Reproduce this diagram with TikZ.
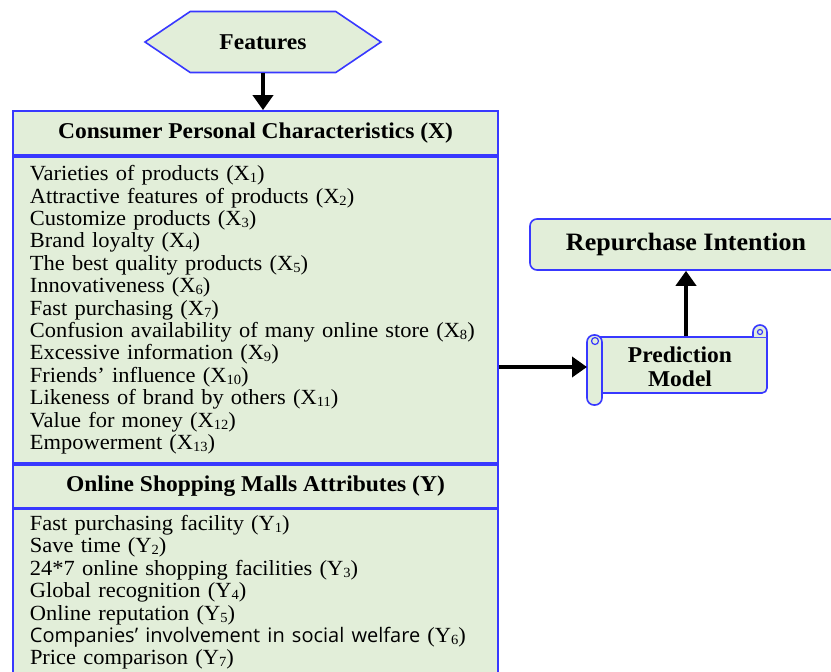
\documentclass[tikz,border=0pt]{standalone}
\usepackage{fontspec}
\setmainfont[FakeStretch=1.04]{Liberation Serif}
\newfontfamily\oddsans{Open Sans}
\usetikzlibrary{positioning,arrows.meta,shapes.symbols}
\newcommand\idx[1]{\raisebox{-0.2ex}{\fontsize{14}{14}\selectfont#1}}

\begin{document}
\begin{tikzpicture}[x=1pt,y=-1pt,font=\fontsize{21.6}{22.4}\selectfont,
 hexbox/.style={shape=signal,signal to=west and east,signal pointer angle=68,draw=frameblue,line width=1.6pt,fill=boxgreen,minimum width=236pt,minimum height=61pt,inner sep=0pt,font=\fontsize{22.6}{26}\selectfont\bfseries},
 headrow/.style={draw=frameblue,line width=1.8pt,fill=boxgreen,minimum width=485pt,inner sep=0pt,font=\fontsize{22.6}{26}\selectfont\bfseries},
 listrow/.style={draw=frameblue,line width=1.8pt,fill=boxgreen,text width=451pt,inner xsep=17pt,inner ysep=0pt,align=left},
 endbox/.style={draw=frameblue,line width=1.6pt,fill=boxgreen,rounded corners=7pt,minimum width=312pt,minimum height=51pt,font=\fontsize{25}{28}\selectfont\bfseries},
 scrollpart/.style={draw=frameblue,line width=1.6pt,fill=boxgreen},
 flow/.style={-{Triangle[length=15pt 0 0,width=20pt 0 0]},line width=4pt,draw=black}]
\definecolor{frameblue}{HTML}{3838FF}
\definecolor{boxgreen}{HTML}{E2EED9}
\useasboundingbox[fill=white] (0,0) rectangle (831,672);
% top of the chart
\node[hexbox] (feat) at (263,42) {Features};
\node[headrow,minimum height=44pt] (cpc) at (255.5,133) {Consumer Personal Characteristics (X)};
\node[listrow,minimum height=306pt,below=0pt of cpc] (xlist)
 {Varieties of products (X\idx{1})\\
  Attractive features of products (X\idx{2})\\
  Customize products (X\idx{3})\\
  Brand loyalty (X\idx{4})\\
  The best quality products (X\idx{5})\\
  Innovativeness (X\idx{6})\\
  Fast purchasing (X\idx{7})\\
  Confusion availability of many online store (X\idx{8})\\
  Excessive information (X\idx{9})\\
  Friends' influence (X\idx{10})\\
  Likeness of brand by others (X\idx{11})\\
  Value for money (X\idx{12})\\
  Empowerment (X\idx{13})};
\node[headrow,minimum height=43pt,below=0pt of xlist] (osma) {Online Shopping Malls Attributes (Y)};
\node[listrow,minimum height=166pt,below=0pt of osma] (ylist)
 {Fast purchasing facility (Y\idx{1})\\
  Save time (Y\idx{2})\\
  24*7 online shopping facilities (Y\idx{3})\\
  Global recognition (Y\idx{4})\\
  Online reputation (Y\idx{5})\\
  {\oddsans\fontsize{20}{22.4}\selectfont Companies’ involvement in social welfare} (Y\idx{6})\\
  Price comparison (Y\idx{7})};
\draw[flow] (feat.south) -- (feat.south |- cpc.north);
% scroll for the model
\draw[scrollpart] (595,337) -- (767,337) [rounded corners=5pt] -- (767,393) [sharp corners] -- (595,393) -- cycle;
\draw[scrollpart] (753,337) -- (753,332) arc[start angle=180,end angle=360,radius=7] -- (767,337);
\draw[frameblue,line width=1.2pt] (760,332) circle[radius=2.5];
\draw[scrollpart,rounded corners=7pt] (587,335) rectangle (602,405);
\draw[frameblue,line width=1.2pt] (595,341) circle[radius=3.5];
\node[font=\fontsize{22.6}{24}\selectfont\bfseries,align=center] (pred) at (680,367) {Prediction\\Model};
\coordinate (rollL) at (587,367);
\node[endbox] (rep) at (686,244.5) {Repurchase Intention};
\draw[flow] (rollL -| xlist.east) -- (rollL);
\draw[flow] (rep.south |- 0,336) -- (rep.south);
\end{tikzpicture}
\end{document}
